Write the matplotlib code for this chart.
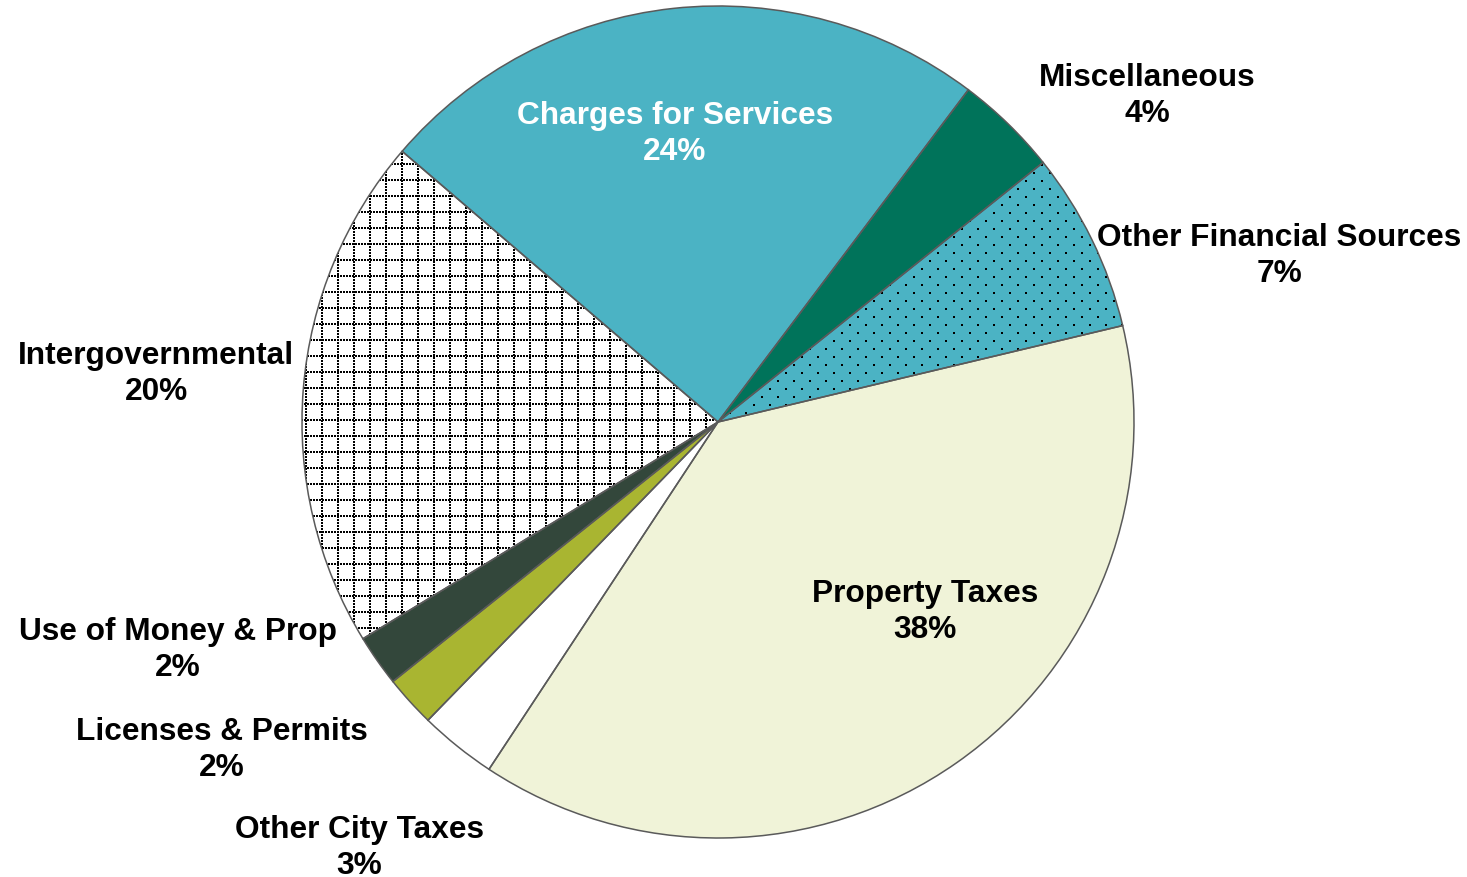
import numpy as np
import matplotlib
matplotlib.use("Agg")
import matplotlib.pyplot as plt
from matplotlib import font_manager
from matplotlib.patches import Wedge

# Revenue sources (share of total, %), clockwise from the top-left
categories = ["Charges for Services", "Miscellaneous", "Other Financial Sources",
              "Property Taxes", "Other City Taxes", "Licenses & Permits",
              "Use of Money & Prop", "Intergovernmental"]
shares = [24, 4, 7, 38, 3, 2, 2, 20]
colors = ["#4BB3C4", "#00735A", "#4BB3C4", "#F0F3D8",
          "#FFFFFF", "#A9B531", "#33473B", "#FFFFFF"]

# Pick the regular-width bold Liberation Sans face
label_font = None
for f in font_manager.fontManager.ttflist:
    if f.name == "Liberation Sans" and f.weight in (700, "bold") and f.style == "normal":
        label_font = font_manager.FontProperties(fname=f.fname)
        break
if label_font is None:
    label_font = font_manager.FontProperties(family="Liberation Sans", weight="bold")
label_font.set_size(22.8)

W, H = 1467, 878
fig = plt.figure(figsize=(W / 100, H / 100), dpi=100)
ax = fig.add_axes([0, 0, 1, 1])

cx, cy, R = 718, H - 423, 416
wedges, _ = ax.pie(shares, colors=colors, startangle=139.4, counterclock=False,
                   center=(cx, cy), radius=R, frame=True,
                   wedgeprops=dict(linewidth=0))
ax.set_xlim(0, W)
ax.set_ylim(0, H)
ax.set_aspect("equal")
ax.axis("off")

# Dotted grid texture for Intergovernmental
grid_w = wedges[7]
lines_x = np.arange(cx - R + 4, cx + R, 16)
lines_y = np.arange(cy - R + 2, cy + R, 16)
along_y = np.arange(cy - R, cy + R, 3)
along_x = np.arange(cx - R, cx + R, 3)
gx = np.concatenate([np.repeat(lines_x, len(along_y)),
                     np.tile(along_x, len(lines_y))])
gy = np.concatenate([np.tile(along_y, len(lines_x)),
                     np.repeat(lines_y, len(along_x))])
g = ax.scatter(gx, gy, s=1.6, marker="s", color="black", linewidths=0, zorder=3)
g.set_clip_path(grid_w)

# Staggered dot texture for Other Financial Sources
dot_w = wedges[2]
xs, ys = [], []
for j, y in enumerate(np.arange(cy - R + 1, cy + R, 8)):
    off = 8 if j % 2 else 0
    for x in np.arange(cx - R + 4 + off, cx + R, 16):
        xs.append(x)
        ys.append(y)
sc = ax.scatter(xs, ys, s=2.1, marker="s", color="black", linewidths=0, zorder=3)
sc.set_clip_path(dot_w)

# Wedge outlines above the textures
for w in wedges:
    w.set_zorder(2)
    ax.add_patch(Wedge((cx, cy), R, w.theta1, w.theta2, fill=False,
                       edgecolor="#5A5A5A", linewidth=1.1, zorder=4))

label_pos = [(675, 134, "white"), (1147, 96, "black"), (1279, 256, "black"),
             (925, 612, "black"), (359, 848, "black"), (222, 750, "black"),
             (178, 650, "black"), (156, 374, "black")]
for name, val, (lx, ly, col) in zip(categories, shares, label_pos):
    ax.text(lx, H - ly, f"{name}\n{val}%", ha="center", va="center",
            fontproperties=label_font, color=col, linespacing=1.23, zorder=5)

fig.savefig("out.png", dpi=100)
